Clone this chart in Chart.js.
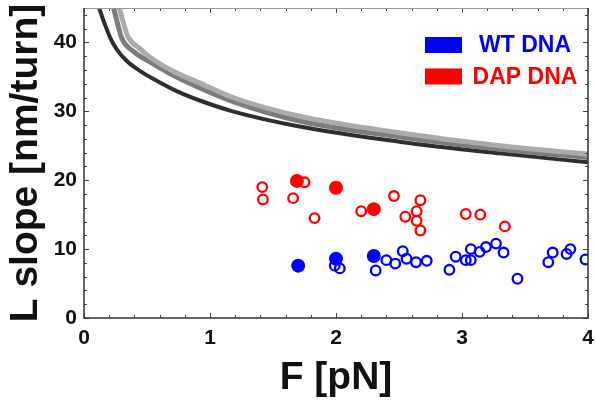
<!DOCTYPE html>
<html>
<head>
<meta charset="utf-8">
<script src="https://cdn.jsdelivr.net/npm/chart.js@4.4.1/dist/chart.umd.min.js"></script>
<style>
  html, body { margin: 0; padding: 0; background: #fff; }
</style>
</head>
<body>
<canvas id="plot" width="596" height="404"></canvas>
<script>
// measured slopes, WT DNA
var wtOpenF = [1.99, 2.03, 2.315, 2.40, 2.47, 2.53, 2.56, 2.635, 2.72, 2.90, 2.95, 3.03, 3.07, 3.07, 3.14, 3.19, 3.27, 3.33, 3.44, 3.685, 3.72, 3.83, 3.86, 3.98];
var wtOpenL = [7.6, 7.2, 6.9, 8.4, 7.9, 9.7, 8.6, 8.1, 8.3, 7.0, 8.9, 8.4, 10.0, 8.4, 9.6, 10.3, 10.8, 9.5, 5.7, 8.1, 9.5, 9.3, 10.0, 8.5];
var wtMeanF = [1.70, 2.00, 2.30];
var wtMeanL = [7.6, 8.6, 9.0];

// measured slopes, DAP DNA
var dapOpenF = [1.415, 1.42, 1.66, 1.75, 1.83, 2.20, 2.46, 2.55, 2.64, 2.64, 2.67, 2.67, 3.03, 3.145, 3.34];
var dapOpenL = [19.0, 17.2, 17.4, 19.7, 14.5, 15.5, 17.7, 14.7, 15.5, 14.1, 17.1, 12.7, 15.1, 15.0, 13.3];
var dapMeanF = [1.69, 2.00, 2.30];
var dapMeanL = [19.9, 18.9, 15.8];

// model curves
var darkF = [0.12, 0.15, 0.21, 0.26, 0.34, 0.45, 0.58, 0.74, 0.93, 1.18, 1.71, 2.5, 3.3, 4.0];
var darkL = [45, 43.4, 40.6, 39.0, 37.3, 35.8, 34.4, 32.9, 31.5, 30.0, 27.8, 25.6, 23.9, 22.6];
var midF = [0.235, 0.26, 0.30, 0.40, 0.52, 0.70, 0.92, 1.2, 1.71, 2.5, 3.3, 4.0];
var midL = [45, 43.2, 40.6, 38.6, 37.2, 35.3, 33.4, 31.3, 28.6, 26.3, 24.5, 23.3];
var lightF = [0.28, 0.31, 0.35, 0.45, 0.52, 0.70, 0.92, 1.2, 1.71, 2.5, 3.3, 4.0];
var lightL = [45, 43.0, 40.8, 39.0, 37.9, 35.9, 34.1, 31.9, 29.3, 26.9, 25.0, 23.8];

var xTicks = [0, 1, 2, 3, 4];
var yTicks = [0, 10, 20, 30, 40];

function pts(xs, ys) {
    return xs.map(function(x, i) { return {x: x, y: ys[i]}; });
}

function curve(xs, ys, color, width) {
    return {
        data: pts(xs, ys),
        showLine: true,
        borderColor: color,
        borderWidth: width,
        pointRadius: 0,
        cubicInterpolationMode: 'monotone',
        order: 5
    };
}

function marks(xs, ys, color, filled) {
    return {
        data: pts(xs, ys),
        pointRadius: filled ? 7 : 4.8,
        borderWidth: filled ? 0 : 2.3,
        borderColor: color,
        backgroundColor: filled ? color : 'rgba(0,0,0,0)',
        pointHoverRadius: 0,
        order: 1
    };
}

// inward ticks on all four sides plus the frame
var frameTicks = {
    id: 'frameTicks',
    afterDatasetsDraw: function(chart) {
        var ctx = chart.ctx, a = chart.chartArea;
        var sx = chart.scales.x, sy = chart.scales.y;
        ctx.save();
        ctx.strokeStyle = '#444';
        ctx.lineWidth = 1;
        for (var i = 0; i <= 20; i++) {
            var v = i * 0.2;
            var px = Math.round(sx.getPixelForValue(v)) + 0.5;
            var len = (i % 5 === 0) ? 5 : 3;
            ctx.beginPath();
            ctx.moveTo(px, a.bottom); ctx.lineTo(px, a.bottom - len);
            ctx.moveTo(px, a.top); ctx.lineTo(px, a.top + len);
            ctx.stroke();
        }
        for (var j = 0; j <= 22; j++) {
            var w = j * 2;
            var py = Math.round(sy.getPixelForValue(w)) + 0.5;
            var l2 = (j % 5 === 0) ? 5 : 3;
            ctx.beginPath();
            ctx.moveTo(a.left, py); ctx.lineTo(a.left + l2, py);
            ctx.moveTo(a.right, py); ctx.lineTo(a.right - l2, py);
            ctx.stroke();
        }
        ctx.strokeStyle = '#999';
        ctx.beginPath();
        ctx.moveTo(a.left, a.top + 0.5); ctx.lineTo(a.right, a.top + 0.5);
        ctx.stroke();
        ctx.strokeStyle = '#333';
        ctx.lineWidth = 1.5;
        ctx.beginPath();
        ctx.moveTo(a.left, a.top); ctx.lineTo(a.left, a.bottom);
        ctx.lineTo(a.right, a.bottom); ctx.lineTo(a.right, a.top);
        ctx.stroke();
        ctx.restore();
    }
};

// legend boxes in the upper right corner
var boxLegend = {
    id: 'boxLegend',
    afterDraw: function(chart) {
        var ctx = chart.ctx, a = chart.chartArea;
        var rows = [['WT DNA', '#0000ff'], ['DAP DNA', '#ff0000']];
        ctx.save();
        ctx.font = 'bold 23px "Liberation Sans", Arial, sans-serif';
        ctx.textAlign = 'center';
        ctx.textBaseline = 'middle';
        rows.forEach(function(r, i) {
            var cy = a.top + 37 + i * 31.5;
            ctx.fillStyle = r[1];
            ctx.fillRect(a.right - 163, cy - 8, 37, 16);
            ctx.fillText(r[0], a.right - 63, cy + 1);
        });
        ctx.restore();
    }
};

var tickFont = {family: '"Liberation Sans", Arial, sans-serif', size: 21, weight: 'bold'};
var titleFont = {family: '"Liberation Sans", Arial, sans-serif', size: 39, weight: 'bold', lineHeight: 1.2};

new Chart(document.getElementById('plot'), {
    type: 'scatter',
    data: {
        datasets: [
            curve(lightF, lightL, '#ababab', 5),
            curve(midF, midL, '#7c7c7c', 5),
            curve(darkF, darkL, '#2e2e2e', 4),
            marks(dapOpenF, dapOpenL, '#ff0000', false),
            marks(wtOpenF, wtOpenL, '#0000ff', false),
            marks(dapMeanF, dapMeanL, '#ff0000', true),
            marks(wtMeanF, wtMeanL, '#0000ff', true)
        ]
    },
    options: {
        responsive: false,
        animation: false,
        events: [],
        layout: { padding: {top: 8, right: 8, left: 0, bottom: 0} },
        plugins: { legend: {display: false}, tooltip: {enabled: false} },
        scales: {
            x: {
                type: 'linear', min: 0, max: 4,
                afterBuildTicks: function(s) { s.ticks = xTicks.map(function(v) { return {value: v}; }); },
                afterFit: function(s) { s.height = 86; s.paddingLeft = 0; s.paddingRight = 0; },
                grid: {display: false, drawTicks: false},
                border: {display: false},
                ticks: {color: '#111', font: tickFont, padding: 8, maxRotation: 0},
                title: {display: true, text: 'F [pN]', color: '#111', font: titleFont, padding: {top: 0, bottom: 2}}
            },
            y: {
                type: 'linear', min: 0, max: 45,
                afterBuildTicks: function(s) { s.ticks = yTicks.map(function(v) { return {value: v}; }); },
                afterFit: function(s) { s.width = 84; s.paddingTop = 0; s.paddingBottom = 0; },
                grid: {display: false, drawTicks: false},
                border: {display: false},
                ticks: {color: '#111', font: tickFont, padding: 7},
                title: {display: true, text: 'L slope [nm/turn]', color: '#111', font: titleFont, padding: {top: 3, bottom: 0}}
            }
        }
    },
    plugins: [frameTicks, boxLegend]
});
</script>
</body>
</html>
